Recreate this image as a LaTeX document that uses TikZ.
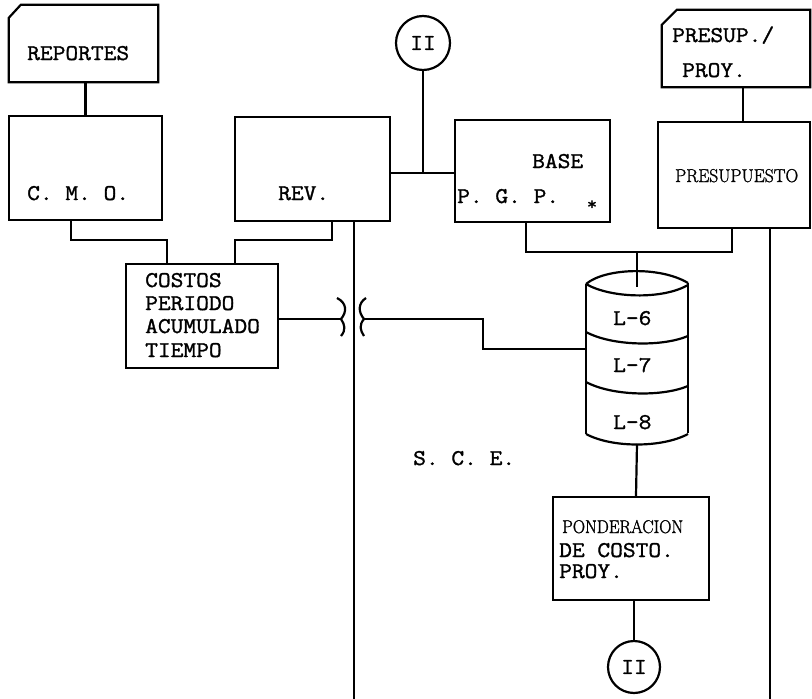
\documentclass[tikz,border=0pt]{standalone}
\usepackage{fontspec}
\usepackage{graphicx}
\setmonofont{Latin Modern Mono}[FakeStretch=1.1, FakeBold=1.4]
\newfontfamily\condserif{Latin Modern Roman}[FakeBold=1.4]
\usetikzlibrary{calc}
\tikzset{
  ln/.style={line width=2.2pt, line join=miter},
  boxnode/.style={draw, line width=2.2pt, rectangle, inner sep=0pt},
  txt/.style={inner sep=0pt, anchor=base west, font=\ttfamily\fontsize{22.5}{24}\selectfont},
  conn/.style={draw, circle, line width=2.2pt, inner sep=0pt, minimum size=#1, font=\ttfamily\fontsize{22.5}{24}\selectfont},
}
\begin{document}
\begin{tikzpicture}[x=1pt,y=-1pt]
\useasboundingbox (0,0) rectangle (812,699);

% boxes
\node[boxnode, minimum width=153pt, minimum height=104pt] (cmo) at (85.5,168) {};
\node[boxnode, minimum width=155pt, minimum height=104pt] (rev) at (312.5,169) {};
\node[boxnode, minimum width=155pt, minimum height=102pt] (base) at (532.5,171) {};
\node[boxnode, minimum width=152pt, minimum height=106pt] (presu) at (734,175) {};
\node[boxnode, minimum width=152pt, minimum height=104pt] (costos) at (202,316) {};
\node[boxnode, minimum width=156pt, minimum height=103pt] (pond) at (631,548.5) {};

% cards (clipped corner)
\node[inner sep=0pt, minimum width=149pt, minimum height=77pt] (rep) at (83.5,43.5) {};
\draw[ln] ($(rep.north west)+(0,13)$) -- ($(rep.north west)+(12,0)$) -- (rep.north east) -- (rep.south east) -- (rep.south west) -- cycle;
\node[inner sep=0pt, minimum width=148pt, minimum height=77pt] (pcard) at (736,48.5) {};
\draw[ln] ($(pcard.north west)+(0,15)$) -- ($(pcard.north west)+(15,0)$) -- (pcard.north east) -- (pcard.south east) -- (pcard.south west) -- cycle;

% connectors (circles)
\node[conn=54pt] (iitop) at (423,43) {II};
\node[conn=52pt] (iibot) at (634,667) {II};

% cylinder
\coordinate (cyltop) at (637,287);
\coordinate (cylbot) at (637,444);
\coordinate (cylleft) at (586,349);
\draw[ln] (586,284) .. controls (605,268) and (660,266) .. (688,283);
\draw[ln] (586,284) .. controls (610,298) and (662,300) .. (688,285);
\draw[ln] (586,284) -- (586,434);
\draw[ln] (688,283) -- (688,433);
\draw[ln] (586,332) .. controls (612,346) and (662,347) .. (688,336);
\draw[ln] (586,382) .. controls (612,396) and (662,397) .. (688,386);
\draw[ln] (586,434) .. controls (612,448) and (662,448) .. (688,434);

% texts
\node[txt] (t1) at (27,60) {REPORTES};
\node[txt] (t2) at (27,200) {C. M. O.};
\node[txt] (t3) at (278,200) {REV.};
\node[txt] (t4) at (532,168) {BASE};
\node[txt] (t5) at (457,203) {P. G. P.};
\node[inner sep=0pt, font=\ttfamily\fontsize{18}{18}\selectfont] (t5s) at (592,205) {*};
\node[txt, font=\condserif\fontsize{21.5}{23}\selectfont] (t6) at (675,182) {\resizebox{123pt}{13pt}{PRESUPUESTO}};
\node[txt] (t7) at (672,42) {PRESUP./};
\node[txt] (t8) at (682,77) {PROY.};
\node[txt] (t9) at (145,287) {COSTOS};
\node[txt] (t10) at (145,310) {PERIODO};
\node[txt] (t11) at (145,333) {ACUMULADO};
\node[txt] (t12) at (145,357) {TIEMPO};
\node[txt] (t13) at (613,325) {L-6};
\node[txt] (t14) at (613,372) {L-7};
\node[txt] (t15) at (613,429) {L-8};
\node[txt] (t16) at (413,465) {S. C. E.};
\node[txt, font=\condserif\fontsize{21.5}{23}\selectfont] (t17) at (562,533) {\resizebox{121pt}{13pt}{PONDERACION}};
\node[txt] (t18) at (559,557) {DE COSTO.};
\node[txt] (t19) at (559,578) {PROY.};

% connector lines
\draw[ln] (cmo.north) -- (cmo.north |- rep.south);
\draw[ln] (71,0 |- cmo.south) -- (71,240) -| (167,0 |- costos.north);
\draw[ln] (332,0 |- rev.south) -- (332,240) -| (235,0 |- costos.north);
\coordinate (revend) at (354,699);
\draw[ln] (354,0 |- rev.south) -- (revend);
\draw[ln] (rev.east |- 0,173) -- (base.west |- 0,173);
\draw[ln] (iitop.south) -- (iitop.south |- 0,173);
\draw[ln] (743,0 |- pcard.south) -- (743,0 |- presu.north);
\draw[ln] (526,0 |- base.south) -- (526,252) -| (732,0 |- presu.south);
\draw[ln] (637,252) -- (cyltop);
\coordinate (presuend) at (770,699);
\draw[ln] (770,0 |- presu.south) -- (presuend);
% jump over
\coordinate (jl) at (341,319);
\coordinate (jr) at (364,319);
\draw[ln] (costos.east |- jl) -- (jl);
\draw[ln] (337,298) .. controls (347,303) and (347,312) .. (jl) .. controls (345,325) and (346,330) .. (341,336);
\draw[ln] (366,298) .. controls (358,303) and (358,312) .. (jr) .. controls (359,325) and (360,330) .. (364,336);
\draw[ln] (jr) -- (483,319) -- (483,349) -- (cylleft);
\draw[ln] (cylbot) -- (636,0 |- pond.north);
\draw[ln] (iibot.north) -- (iibot.north |- pond.south);
\end{tikzpicture}
\end{document}
